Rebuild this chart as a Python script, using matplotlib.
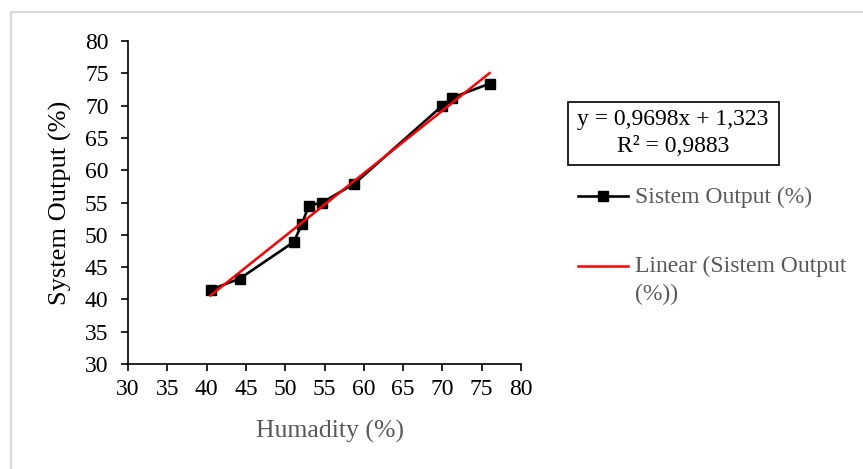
import matplotlib.pyplot as plt
from matplotlib.lines import Line2D
from matplotlib.patches import Rectangle
import numpy as np

# data
humidity = [40.5, 44.2, 51.1, 52.1, 53.0, 54.7, 58.8, 70.0, 71.2, 76.0]
sys_output = [41.5, 43.2, 48.9, 51.6, 54.5, 55.0, 57.9, 70.0, 71.2, 73.4]
slope = 0.9698
intercept = 1.323
r2 = 0.9883

x_ticks = list(range(30, 81, 5))
y_ticks = list(range(30, 81, 5))

plt.rcParams["font.family"] = ["Liberation Serif", "DejaVu Serif"]
GRAY = "#595959"

fig = plt.figure(figsize=(8.63, 4.69), dpi=100)
ax = fig.add_axes([128 / 863, 1 - 364 / 469, (521 - 128) / 863, (364 - 41) / 469])

ax.plot(humidity, sys_output, color="black", lw=1.9, marker="s", ms=7.5,
        zorder=3, label="Sistem Output (%)")
xf = np.array([min(humidity), max(humidity)])
ax.plot(xf, slope * xf + intercept, color="#ff0000", lw=1.8, zorder=4,
        label="Linear (Sistem Output\n(%))")

ax.set_xlim(30, 80)
ax.set_ylim(30, 80)
ax.set_xticks(x_ticks)
ax.set_yticks(y_ticks)
ax.tick_params(labelsize=17, length=5, width=1.2, colors="black")
ax.tick_params(axis="y", pad=9)
ax.tick_params(axis="x", pad=6)
for s in ("top", "right"):
    ax.spines[s].set_visible(False)
for s in ("left", "bottom"):
    ax.spines[s].set_linewidth(1.2)

fig.text(60 / 863, 1 - 203 / 469, "System Output (%)", rotation=90,
         ha="center", va="center", fontsize=19, color="black")
fig.text(330 / 863, 1 - 431 / 469, "Humadity (%)", ha="center", va="center",
         fontsize=18.5, color=GRAY)

# trendline equation box
fig.patches.append(Rectangle((568 / 863, 1 - 165 / 469), 211 / 863, 63 / 469,
                             transform=fig.transFigure, fill=False,
                             edgecolor="black", lw=1.2))
fig.text(673 / 863, 1 - 120 / 469, f"y = {slope}x + {intercept}".replace(".", ","),
         ha="center", va="center", fontsize=17)
fig.text(673 / 863, 1 - 146 / 469, f"R² = {r2}".replace(".", ","),
         ha="center", va="center", fontsize=17)

# legend drawn by hand to match placement
fig.lines.append(Line2D([578 / 863, 628 / 863], [1 - 196 / 469] * 2,
                        transform=fig.transFigure, color="black", lw=1.9))
fig.lines.append(Line2D([603 / 863], [1 - 196 / 469], transform=fig.transFigure,
                        color="black", marker="s", ms=7.5))
fig.text(635 / 863, 1 - 197 / 469, "Sistem Output (%)", ha="left", va="center",
         fontsize=17, color=GRAY)
fig.lines.append(Line2D([578 / 863, 628 / 863], [1 - 266 / 469] * 2,
                        transform=fig.transFigure, color="#ff0000", lw=1.8))
fig.text(635 / 863, 1 - 266 / 469, "Linear (Sistem Output", ha="left", va="center",
         fontsize=17, color=GRAY)
fig.text(635 / 863, 1 - 294 / 469, "(%))", ha="left", va="center",
         fontsize=17, color=GRAY)

# chart-area border (top and left visible)
fig.lines.append(Line2D([11 / 863, 11 / 863, 1.0], [0.0, 1 - 12 / 469, 1 - 12 / 469],
                        transform=fig.transFigure, color="#d9d9d9", lw=1.5))

fig.savefig("out.png", dpi=100)
